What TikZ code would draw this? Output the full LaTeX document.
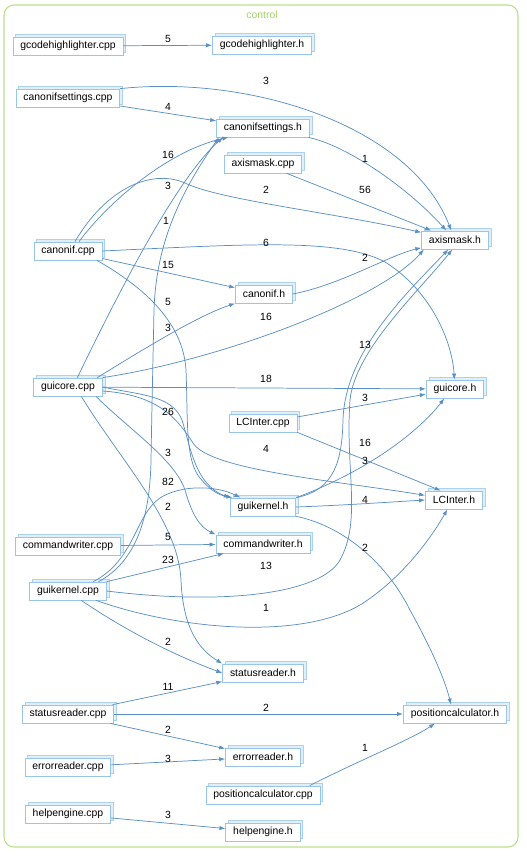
\documentclass[tikz,border=0pt]{standalone}
\usepackage{fontspec}
\setmainfont{Liberation Sans}
\usetikzlibrary{shadows,arrows.meta}
\definecolor{edgec}{RGB}{90,143,196}
\definecolor{boxc}{RGB}{152,198,234}
\definecolor{boxside}{RGB}{225,239,250}
\definecolor{boxsidedraw}{RGB}{172,210,238}
\definecolor{grp}{RGB}{186,222,140}
\definecolor{grptxt}{RGB}{165,208,105}
\tikzset{
 file/.style={draw=boxc, fill=white, line width=0.6pt, inner xsep=5.5pt, inner ysep=0pt,
   minimum height=13.5pt, font=\fontsize{7.8}{9}\selectfont,
   copy shadow={shadow xshift=2pt, shadow yshift=2pt, fill=boxside, draw=boxsidedraw, line width=0.5pt}},
 e/.style={draw=edgec, line width=0.55pt, -{Latex[length=4.5pt,width=3.2pt]}},
 lbl/.style={font=\fontsize{7.8}{9}\selectfont, inner sep=0pt}
}
\begin{document}
\begin{tikzpicture}[x=0.75pt,y=-0.75pt]
\useasboundingbox (0,0) rectangle (527,856);
\draw[grp, line width=0.8pt, rounded corners=7.5pt] (4,5) rectangle (518,847);
\node[font=\fontsize{7.8}{9}\selectfont, text=grptxt] (title) at (262,15) {control};

\node[file] (gcodecpp) at (68,46) {gcodehighlighter.cpp};
\node[file] (gcodeh) at (262,45) {gcodehighlighter.h};
\node[file] (cscpp) at (68,98) {canonifsettings.cpp};
\node[file] (csh) at (263,128) {canonifsettings.h};
\node[file] (amcpp) at (263,164) {axismask.cpp};
\node[file] (cancpp) at (68,251) {canonif.cpp};
\node[file] (amh) at (455,240) {axismask.h};
\node[file] (canh) at (264,294) {canonif.h};
\node[file] (gccpp) at (68,387) {guicore.cpp};
\node[file] (gch) at (455,389) {guicore.h};
\node[file] (lccpp) at (263,423) {LCInter.cpp};
\node[file] (lch) at (454,500) {LCInter.h};
\node[file] (gkh) at (263,507) {guikernel.h};
\node[file] (cwcpp) at (68,546) {commandwriter.cpp};
\node[file] (cwh) at (263,544) {commandwriter.h};
\node[file] (gkcpp) at (68,591) {guikernel.cpp};
\node[file] (srh) at (263,673) {statusreader.h};
\node[file] (srcpp) at (68,714) {statusreader.cpp};
\node[file] (pch) at (455,714) {positioncalculator.h};
\node[file] (erh) at (263,757) {errorreader.h};
\node[file] (ercpp) at (68,767) {errorreader.cpp};
\node[file] (pccpp) at (263,795) {positioncalculator.cpp};
\node[file] (hecpp) at (68,814) {helpengine.cpp};
\node[file] (heh) at (263,832) {helpengine.h};

% edges
\draw[e] (gcodecpp) -- (gcodeh);
\draw[e] (cscpp) -- (csh);
\draw[e] (cscpp.north east) .. controls (250,75) and (410,125) .. (amh);
\draw[e] (csh) .. controls (345,145) and (405,185) .. (amh);
\draw[e] (amcpp) -- (amh);
\draw[e] ([xshift=8.25pt]cancpp.north) .. controls (110,200) and (170,150) .. ([xshift=-26pt]csh.south);
\draw[e] ([xshift=5.25pt]cancpp.north) .. controls (105,190) and (150,168) .. (185,183) .. controls (220,200) and (330,212) .. (amh);
\draw[e] (cancpp.east) .. controls (250,244) and (340,238) .. (385,262) .. controls (430,290) and (452,340) .. (gch);
\draw[e] (cancpp) -- (canh);
\draw[e] ([xshift=-4pt]cancpp.south east) .. controls (140,285) and (183,320) .. (186,370) .. controls (188,420) and (185,460) .. (200,478) .. controls (210,490) and (218,495) .. ([xshift=2pt]gkh.north west);
\draw[e] (gccpp.east) .. controls (140,395) and (172,395) .. (182,420) .. controls (190,445) and (195,485) .. (gkh.north west);
\draw[e] ([xshift=7pt]gccpp.north) .. controls (115,300) and (175,180) .. ([xshift=-30pt]csh.south);
\draw[e] ([xshift=-6pt]gkcpp.north east) .. controls (135,562) and (150,520) .. (151,460) .. controls (152,400) and (153,360) .. (154,310) .. controls (156,250) and (175,200) .. ([xshift=-33pt]csh.south);
\draw[e] ([xshift=-4pt]gccpp.north east) .. controls (150,345) and (200,315) .. (canh.south west);
\draw[e] (gccpp.north east) .. controls (220,360) and (380,300) .. ([xshift=2pt]amh.south west);
\draw[e] (gccpp) -- (gch);
\draw[e] ([yshift=-3pt]gccpp.east) .. controls (160,395) and (178,420) .. (193,443) .. controls (210,470) and (330,480) .. (lch);
\draw[e] ([xshift=-5pt]gccpp.south east) .. controls (130,430) and (175,460) .. (185,490) .. controls (192,515) and (200,527) .. (cwh.north west);
\draw[e] ([xshift=10pt]gccpp.south) .. controls (120,460) and (178,520) .. (181,580) .. controls (183,630) and (200,650) .. (srh.north west);
\draw[e] ([xshift=-10pt]gkcpp.north east) .. controls (135,560) and (135,515) .. (160,498) .. controls (180,485) and (215,485) .. ([xshift=8pt]gkh.north west);
\draw[e] (gkcpp) -- (cwh);
\draw[e] (cwcpp) -- (cwh);
\draw[e] (gkcpp.east) .. controls (220,605) and (320,595) .. (340,560) .. controls (362,520) and (345,470) .. (350,400) .. controls (355,350) and (420,290) .. ([xshift=-2pt]amh.south);
\draw[e] (gkh.north east) .. controls (335,490) and (342,460) .. (343,420) .. controls (345,350) and (410,290) .. ([xshift=-5pt]amh.south);
\draw[e] ([xshift=-8pt]gkcpp.south east) .. controls (180,630) and (300,640) .. (360,605) .. controls (400,580) and (430,540) .. ([xshift=-5pt]lch.south);
\draw[e] ([xshift=10pt]gkcpp.south) .. controls (110,620) and (160,650) .. (srh.west);
\draw[e] (gkh.north east) .. controls (370,470) and (420,430) .. ([xshift=-8pt]gch.south);
\draw[e] (gkh.east) .. controls (350,505) and (390,502) .. (lch.west);
\draw[e] (gkh.south east) .. controls (340,525) and (385,560) .. (410,610) .. controls (432,650) and (445,680) .. ([xshift=-3pt]pch.north);
\draw[e] (lccpp) -- (gch);
\draw[e] (lccpp.south east) -- ([xshift=-10pt]lch.north);
\draw[e] (canh.east) .. controls (340,285) and (390,255) .. (amh);
\draw[e] (srcpp) -- (srh);
\draw[e] (srcpp) -- (pch);
\draw[e] (srcpp) -- (erh);
\draw[e] (ercpp) -- (erh);
\draw[e] ([xshift=35pt]pccpp.north) .. controls (360,760) and (410,740) .. ([xshift=-15pt]pch.south);
\draw[e] (hecpp) -- (heh);

% labels
\node[lbl] (l1) at (168,39) {5};
\node[lbl] (l2) at (266,81) {3};
\node[lbl] (l3) at (168,107) {4};
\node[lbl] (l4) at (168,155) {16};
\node[lbl] (l5) at (365,159) {1};
\node[lbl] (l6) at (168,186) {3};
\node[lbl] (l7) at (266,190) {2};
\node[lbl] (l8) at (365,190) {56};
\node[lbl] (l9) at (166,221) {1};
\node[lbl] (l10) at (266,243) {6};
\node[lbl] (l11) at (365,258) {2};
\node[lbl] (l12) at (168,265) {15};
\node[lbl] (l13) at (168,302) {5};
\node[lbl] (l14) at (266,317) {16};
\node[lbl] (l15) at (168,328) {3};
\node[lbl] (l16) at (365,345) {13};
\node[lbl] (l17) at (266,379) {18};
\node[lbl] (l18) at (365,398) {3};
\node[lbl] (l19) at (168,412) {26};
\node[lbl] (l20) at (365,443) {16};
\node[lbl] (l21) at (266,449) {4};
\node[lbl] (l22) at (168,453) {3};
\node[lbl] (l23) at (365,461) {3};
\node[lbl] (l24) at (168,482) {82};
\node[lbl] (l25) at (365,500) {4};
\node[lbl] (l26) at (168,507) {2};
\node[lbl] (l27) at (168,537) {5};
\node[lbl] (l28) at (365,548) {2};
\node[lbl] (l29) at (168,560) {23};
\node[lbl] (l30) at (266,566) {13};
\node[lbl] (l31) at (266,608) {1};
\node[lbl] (l32) at (168,642) {2};
\node[lbl] (l33) at (168,687) {11};
\node[lbl] (l34) at (266,708) {2};
\node[lbl] (l35) at (168,730) {2};
\node[lbl] (l36) at (365,748) {1};
\node[lbl] (l37) at (168,759) {3};
\node[lbl] (l38) at (168,815) {3};
\end{tikzpicture}
\end{document}
